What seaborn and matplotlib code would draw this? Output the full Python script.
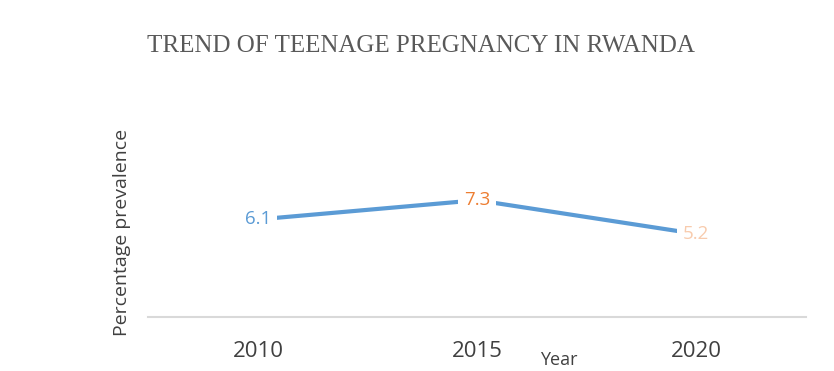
import matplotlib.pyplot as plt
import seaborn as sns
import pandas as pd

years = ['2010', '2015', '2020']
prevalence = [6.1, 7.3, 5.2]
label_colors = ['#5B9BD5', '#ED7D31', '#F8CBAD']

sns.set_style('white')
plt.rcParams['font.family'] = ['Open Sans', 'DejaVu Sans']

df = pd.DataFrame({'Year': years, 'Prevalence': prevalence})

fig, ax = plt.subplots(figsize=(8.34, 3.71), dpi=100)
fig.subplots_adjust(left=0.178, right=0.966, bottom=0.145, top=0.78)

sns.lineplot(data=df, x='Year', y='Prevalence', ax=ax, sort=False,
             color='#5B9BD5', linewidth=3)

# data labels with white boxes that break the line, like Excel
for i, (v, c) in enumerate(zip(prevalence, label_colors)):
    ax.text(i, v, f'{v}', color=c, fontsize=13.5, ha='center', va='center',
            bbox=dict(facecolor='white', edgecolor='none', pad=4))

ax.set_xlim(-0.5, 2.5)
ax.set_ylim(0, 14.7)
ax.set_yticks([])
ax.tick_params(axis='x', length=0, labelsize=16, labelcolor='#404040', pad=17)

for s in ['top', 'right', 'left']:
    ax.spines[s].set_visible(False)
ax.spines['bottom'].set_color('#D9D9D9')
ax.spines['bottom'].set_linewidth(1.5)

ax.set_xlabel('Year', fontsize=13, color='#404040')
ax.xaxis.set_label_coords(0.624, -0.145)
ax.set_ylabel('Percentage prevalence', fontsize=14, color='#404040')
ax.yaxis.set_label_coords(-0.027, 0.36)

fig.text(0.505, 0.875, 'TREND OF TEENAGE PREGNANCY IN RWANDA',
         ha='center', va='center', fontsize=18, color='#595959',
         family=['Liberation Serif', 'DejaVu Serif'])

plt.savefig('out.png', dpi=100)
plt.close()
